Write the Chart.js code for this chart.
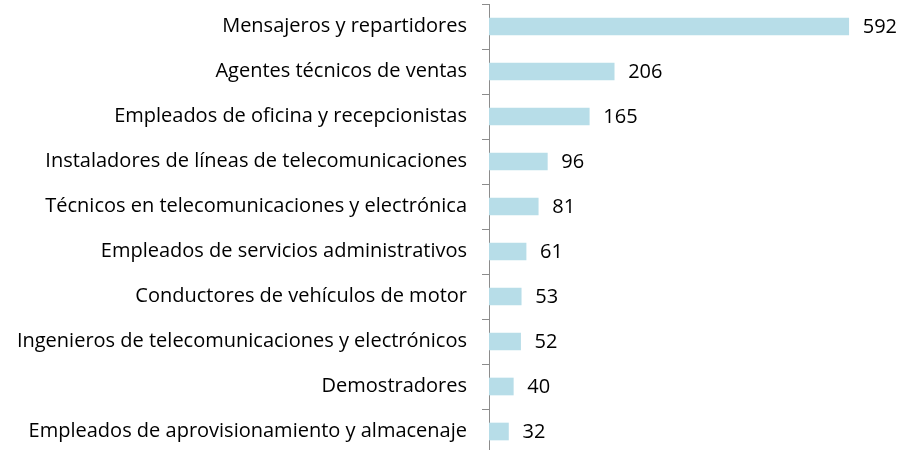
<!DOCTYPE html>
<html>
<head>
<meta charset="utf-8">
<script src="https://cdn.jsdelivr.net/npm/chart.js@4.4.1/dist/chart.umd.min.js"></script>
<style>
  html, body { margin: 0; padding: 0; background: #fff; overflow: hidden; }
  #wrap { width: 901px; height: 454px; position: relative; }
</style>
</head>
<body>
<div id="wrap"><canvas id="chart"></canvas></div>
<script>
// Occupations and counts, top to bottom
const occupations = [
  'Mensajeros y repartidores',
  'Agentes técnicos de ventas',
  'Empleados de oficina y recepcionistas',
  'Instaladores de líneas de telecomunicaciones',
  'Técnicos en telecomunicaciones y electrónica',
  'Empleados de servicios administrativos',
  'Conductores de vehículos de motor',
  'Ingenieros de telecomunicaciones y electrónicos',
  'Demostradores',
  'Empleados de aprovisionamiento y almacenaje'
];
const counts = [592, 206, 165, 96, 81, 61, 53, 52, 40, 32];

const FONT = { family: "'Open Sans', sans-serif", size: 20 };

// Draws the value just past the end of each bar
const valueLabels = {
  id: 'valueLabels',
  afterDatasetsDraw(chart) {
    const ctx = chart.ctx;
    const meta = chart.getDatasetMeta(0);
    ctx.save();
    ctx.font = FONT.size + 'px ' + FONT.family;
    ctx.fillStyle = '#000';
    ctx.textAlign = 'left';
    ctx.textBaseline = 'middle';
    meta.data.forEach((bar, i) => {
      ctx.fillText(String(counts[i]), bar.x + 14, bar.y + 1);
    });
    ctx.restore();
  }
};

new Chart(document.getElementById('chart'), {
  type: 'bar',
  data: {
    labels: occupations,
    datasets: [{
      data: counts,
      backgroundColor: '#b7dde8',
      borderWidth: 0,
      barThickness: 17
    }]
  },
  options: {
    indexAxis: 'y',
    responsive: true,
    maintainAspectRatio: false,
    animation: false,
    layout: { padding: { top: 4, right: 0, bottom: 0, left: 0 } },
    plugins: { legend: { display: false }, tooltip: { enabled: false } },
    scales: {
      x: { display: false, min: 0, max: 678 },
      y: {
        afterFit: (scale) => {
          scale.width = 489;
          scale.paddingTop = 0;
          scale.paddingBottom = 0;
        },
        border: { color: '#8c8c8c', width: 1 },
        grid: { offset: true, drawOnChartArea: false, tickLength: 7, color: '#8c8c8c' },
        ticks: { color: '#000', font: FONT, padding: 15, autoSkip: false }
      }
    }
  },
  plugins: [valueLabels]
});
</script>
</body>
</html>
